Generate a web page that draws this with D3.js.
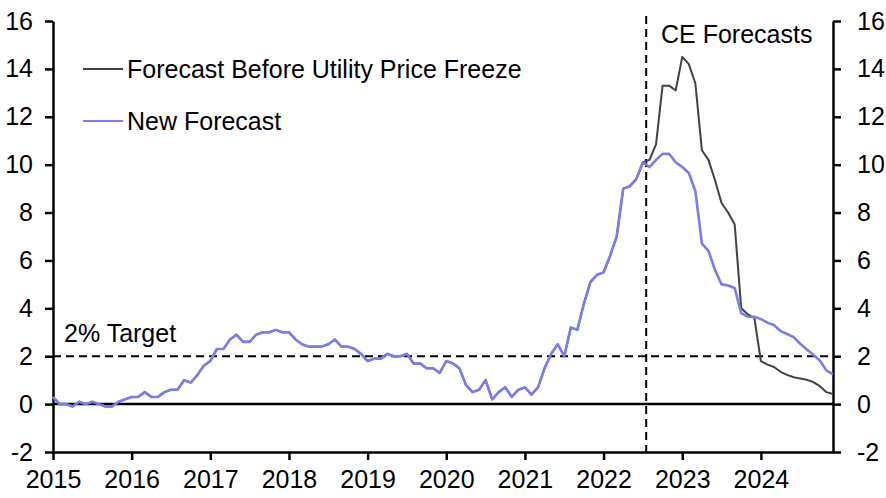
<!DOCTYPE html>
<html>
<head>
<meta charset="utf-8">
<script src="https://cdn.jsdelivr.net/npm/d3@7"></script>
<style>
  html, body { margin: 0; padding: 0; background: #fff; }
  svg text { font-family: "Liberation Sans", Arial, sans-serif; fill: #000; }
</style>
</head>
<body>
<svg id="chart" width="886" height="498"></svg>
<script>
// ---- data (UK CPI inflation, % y/y, monthly from Jan 2015) ----
const startYear = 2015;
const yearLabels = ["2015","2016","2017","2018","2019","2020","2021","2022","2023","2024"];
const yTicks = [-2, 0, 2, 4, 6, 8, 10, 12, 14, 16];
// Actual outturns Jan 2015 - Jul 2022 (shared by both series)
const history = [
  0.3, 0.0, 0.0, -0.1, 0.1, 0.0, 0.1, 0.0, -0.1, -0.1, 0.1, 0.2,
  0.3, 0.3, 0.5, 0.3, 0.3, 0.5, 0.6, 0.6, 1.0, 0.9, 1.2, 1.6,
  1.8, 2.3, 2.3, 2.7, 2.9, 2.6, 2.6, 2.9, 3.0, 3.0, 3.1, 3.0,
  3.0, 2.7, 2.5, 2.4, 2.4, 2.4, 2.5, 2.7, 2.4, 2.4, 2.3, 2.1,
  1.8, 1.9, 1.9, 2.1, 2.0, 2.0, 2.1, 1.7, 1.7, 1.5, 1.5, 1.3,
  1.8, 1.7, 1.5, 0.8, 0.5, 0.6, 1.0, 0.2, 0.5, 0.7, 0.3, 0.6,
  0.7, 0.4, 0.7, 1.5, 2.1, 2.5, 2.0, 3.2, 3.1, 4.2, 5.1, 5.4,
  5.5, 6.2, 7.0, 9.0, 9.1, 9.4, 10.1
];
// Aug 2022 - Dec 2024
const forecastBefore = [
  10.2, 10.85, 13.3, 13.3, 13.1,
  14.5, 14.2, 13.4, 10.6, 10.2, 9.35, 8.4, 8.0, 7.5, 4.0, 3.75, 3.6,
  1.8, 1.65, 1.55, 1.35, 1.22, 1.12, 1.07, 1.02, 0.92, 0.75, 0.5, 0.42
];
const newForecast = [
  9.9, 10.2, 10.45, 10.45, 10.1,
  9.9, 9.65, 8.9, 6.7, 6.4, 5.6, 5.0, 4.95, 4.85, 3.8, 3.65, 3.65,
  3.55, 3.4, 3.3, 3.05, 2.93, 2.8, 2.52, 2.28, 2.06, 1.82, 1.4, 1.25
];
const seriesNames = ["Forecast Before Utility Price Freeze", "New Forecast"];
const target = 2;
const forecastStartMonth = 90.5; // between Jul and Aug 2022
const forecastLabel = "CE Forecasts";
const targetLabel = "2% Target";

// ---- build series ----
const seriesBefore = history.concat(forecastBefore).map((v, i) => ({ i, v }));
const seriesNew = history.concat(newForecast).map((v, i) => ({ i, v }));
const nMonths = seriesBefore.length;

// ---- layout ----
const svg = d3.select("#chart");
const W = 886, H = 498;
const m = { left: 53, right: 53, top: 21, bottom: 46 };
const FONT = 25;

const x = d3.scaleLinear().domain([0, nMonths - 1]).range([m.left, W - m.right]);
const y = d3.scaleLinear().domain([-2, 16]).range([H - m.bottom, m.top]);

svg.append("rect").attr("width", W).attr("height", H).attr("fill", "#fff");

// target dashed line
svg.append("line")
  .attr("x1", x(0)).attr("x2", x(nMonths - 1))
  .attr("y1", y(target)).attr("y2", y(target))
  .attr("stroke", "#000").attr("stroke-width", 2)
  .attr("stroke-dasharray", "8,5");

// zero line
svg.append("line")
  .attr("x1", x(0)).attr("x2", x(nMonths - 1))
  .attr("y1", y(0)).attr("y2", y(0))
  .attr("stroke", "#000").attr("stroke-width", 2.5);

// forecast start dashed vertical
svg.append("line")
  .attr("x1", x(forecastStartMonth)).attr("x2", x(forecastStartMonth))
  .attr("y1", 16).attr("y2", y(-2))
  .attr("stroke", "#000").attr("stroke-width", 2)
  .attr("stroke-dasharray", "8,5");

// axes
const styleAxis = g => {
  g.selectAll(".domain").attr("stroke", "#000").attr("stroke-width", 2.5);
  g.selectAll(".tick line").attr("stroke", "#000").attr("stroke-width", 2.5);
  g.selectAll(".tick text").style("font-size", FONT + "px")
    .style("font-family", '"Liberation Sans", Arial, sans-serif').attr("fill", "#000");
};
const numFmt = d => String(d);

svg.append("g")
  .attr("transform", `translate(${m.left},0)`)
  .call(d3.axisLeft(y).tickValues(yTicks).tickSize(8).tickPadding(12).tickSizeOuter(0).tickFormat(numFmt))
  .call(styleAxis);

svg.append("g")
  .attr("transform", `translate(${W - m.right},0)`)
  .call(d3.axisRight(y).tickValues(yTicks).tickSize(8).tickPadding(16).tickSizeOuter(0).tickFormat(numFmt))
  .call(styleAxis);

svg.append("g")
  .attr("transform", `translate(0,${H - m.bottom})`)
  .call(d3.axisBottom(x).tickValues(yearLabels.map((d, k) => k * 12)).tickSize(8).tickPadding(10).tickSizeOuter(0)
    .tickFormat((d, k) => yearLabels[k]))
  .call(styleAxis);

// lines
const line = d3.line().x(d => x(d.i)).y(d => y(d.v));
const colors = ["#424242", "#7b7bf5"];
const widths = [2, 2.6];

svg.append("path").datum(seriesBefore)
  .attr("fill", "none").attr("stroke", colors[0]).attr("stroke-width", widths[0])
  .attr("stroke-linejoin", "round").attr("d", line);
svg.append("path").datum(seriesNew)
  .attr("fill", "none").attr("stroke", colors[1]).attr("stroke-width", widths[1])
  .attr("stroke-linejoin", "round").attr("d", line);

// legend
const legendY = [69, 121];
seriesNames.forEach((name, k) => {
  svg.append("line").attr("x1", 83).attr("x2", 123)
    .attr("y1", legendY[k]).attr("y2", legendY[k])
    .attr("stroke", colors[k]).attr("stroke-width", 2);
  svg.append("text").attr("x", 127).attr("y", legendY[k] + 8.5)
    .style("font-size", FONT + "px").text(name);
});

// annotations
svg.append("text").attr("x", 661).attr("y", 43).style("font-size", FONT + "px").text(forecastLabel);
svg.append("text").attr("x", 64).attr("y", 342).style("font-size", FONT + "px").text(targetLabel);
</script>
</body>
</html>
